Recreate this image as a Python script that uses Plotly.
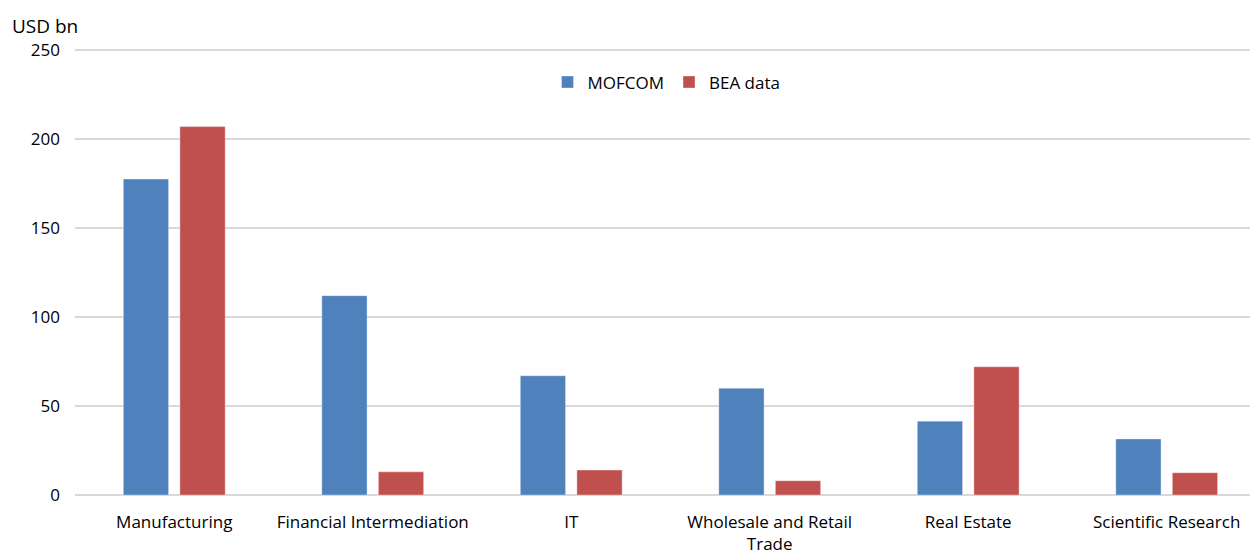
import plotly.graph_objects as go

categories = ["Manufacturing", "Financial Intermediation", "IT",
              "Wholesale and Retail<br>Trade", "Real Estate", "Scientific Research"]
mofcom = [177.5, 112, 67, 60, 41.5, 31.5]
bea = [207, 13, 14, 8, 72, 12.5]
y_ticks = [0, 50, 100, 150, 200, 250]

font_family = "Open Sans"
color_text = "#000000"
color_grid = "#d9d9d9"

fig = go.Figure()

fig.add_trace(go.Bar(
    x=categories, y=mofcom, name="MOFCOM",
    marker=dict(color="#4F81BD", line=dict(color="rgba(255,255,255,0.35)", width=1)),
))
fig.add_trace(go.Bar(
    x=categories, y=bea, name="BEA data",
    marker=dict(color="#C0504D", line=dict(color="rgba(255,255,255,0.35)", width=1)),
))

# the page body adds an 8px offset, so the figure is a bit smaller than the window
fig.update_layout(
    width=1250,
    height=543,
    margin=dict(l=67, r=0, t=41, b=56),
    plot_bgcolor="white",
    paper_bgcolor="white",
    font=dict(family=font_family, size=17, color=color_text),
    barmode="group",
    bargap=0.43,
    bargroupgap=0.2,
    showlegend=True,
    legend=dict(
        orientation="h",
        x=0.5, xanchor="center",
        y=0.925, yanchor="middle",
        font=dict(size=17),
        itemwidth=30,
        bgcolor="rgba(0,0,0,0)",
    ),
)

fig.update_xaxes(
    range=[-0.5, 5.46],
    showgrid=False,
    showline=False,
    ticks="",
    automargin=False,
    ticklabelstandoff=15,
    tickfont=dict(size=17),
)

fig.update_yaxes(
    range=[0, 250.6],
    tickvals=y_ticks,
    showgrid=True,
    gridcolor=color_grid,
    gridwidth=1.5,
    zeroline=True,
    zerolinecolor=color_grid,
    zerolinewidth=1.5,
    showline=False,
    ticks="",
    automargin=False,
    ticklabelstandoff=14,
    tickfont=dict(size=17),
)

fig.add_annotation(
    xref="paper", yref="paper",
    x=0, y=1.0,
    xanchor="left", yanchor="bottom",
    xshift=-65, yshift=8,
    text="USD bn",
    showarrow=False,
    font=dict(size=19, family=font_family),
)

fig.write_html("out.html")
